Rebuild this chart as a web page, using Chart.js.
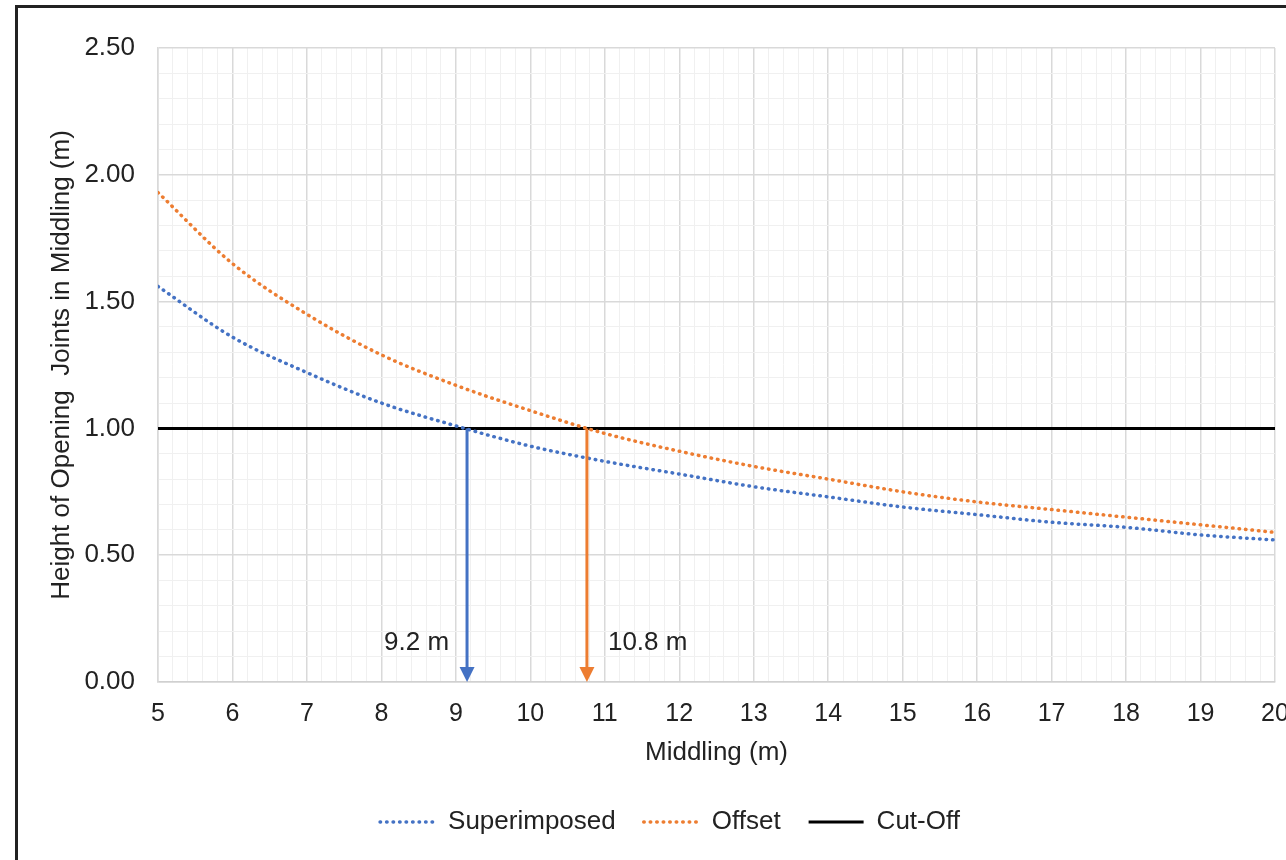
<!DOCTYPE html>
<html>
<head>
<meta charset="utf-8">
<script src="https://cdn.jsdelivr.net/npm/chart.js@4.4.1/dist/chart.umd.min.js"></script>
<style>
  html, body { margin: 0; padding: 0; background: #fff; overflow: hidden; }
  #frame {
    position: absolute; left: 15px; top: 5px;
    width: 1320px; height: 900px;
    border: 3px solid #222;
    background: #fff;
  }
</style>
</head>
<body>
<div id="frame"><canvas id="myChart"></canvas></div>
<script>
// values
const middling = [5, 6, 7, 8, 9, 10, 11, 12, 13, 14, 15, 16, 17, 18, 19, 20];
const superimposed = [1.56, 1.36, 1.22, 1.10, 1.01, 0.93, 0.87, 0.82, 0.77, 0.73, 0.69, 0.66, 0.63, 0.61, 0.58, 0.56];
const offset = [1.93, 1.65, 1.45, 1.29, 1.17, 1.07, 0.98, 0.91, 0.85, 0.80, 0.75, 0.71, 0.68, 0.65, 0.62, 0.59];
const cutOffX = [5, 20];
const cutOffY = [1.0, 1.0];
const arrowX = [9.15, 10.76];
const arrowLabels = ["9.2 m", "10.8 m"];
const arrowLabelY = 0.154;

const blue = "#4472C4";
const orange = "#ED7D31";
const font = "'Liberation Sans', Arial, sans-serif";

function pts(xs, ys) {
  return xs.map((x, i) => ({ x: x, y: ys[i] }));
}

const isMajorX = v => Math.abs(v - Math.round(v)) < 1e-6;
const isMajorY = v => Math.abs(v * 2 - Math.round(v * 2)) < 1e-6;

// arrows and their labels, placed through the scales
const arrowPlugin = {
  id: "arrows",
  afterDatasetsDraw(chart) {
    const xs = chart.scales.x;
    const ys = chart.scales.y;
    const c = chart.ctx;
    const colors = [blue, orange];
    const y1 = ys.getPixelForValue(1);
    const y0 = ys.getPixelForValue(0);
    const ly = ys.getPixelForValue(arrowLabelY);
    c.save();
    arrowX.forEach((v, i) => {
      const px = xs.getPixelForValue(v);
      c.strokeStyle = colors[i];
      c.fillStyle = colors[i];
      c.lineWidth = 3;
      c.beginPath();
      c.moveTo(px, y1);
      c.lineTo(px, y0 - 12);
      c.stroke();
      c.beginPath();
      c.moveTo(px, y0);
      c.lineTo(px - 7.5, y0 - 15);
      c.lineTo(px + 7.5, y0 - 15);
      c.closePath();
      c.fill();
      c.fillStyle = "#222";
      c.font = "26px " + font;
      c.textBaseline = "middle";
      if (i === 0) {
        c.textAlign = "right";
        c.fillText(arrowLabels[i], px - 18, ly);
      } else {
        c.textAlign = "left";
        c.fillText(arrowLabels[i], px + 21, ly);
      }
    });
    c.restore();
  }
};

const ctx = document.getElementById("myChart");

let chartData = {
  datasets: [
    {
      label: "Superimposed",
      data: pts(middling, superimposed),
      borderColor: blue,
      backgroundColor: blue,
      borderWidth: 3.5,
      borderDash: [0.5, 6],
      borderCapStyle: "round",
      pointRadius: 0,
      cubicInterpolationMode: "monotone"
    },
    {
      label: "Offset",
      data: pts(middling, offset),
      borderColor: orange,
      backgroundColor: orange,
      borderWidth: 3.5,
      borderDash: [0.5, 6],
      borderCapStyle: "round",
      pointRadius: 0,
      cubicInterpolationMode: "monotone"
    },
    {
      label: "Cut-Off",
      data: pts(cutOffX, cutOffY),
      borderColor: "#000",
      backgroundColor: "#000",
      borderWidth: 3,
      pointRadius: 0
    }
  ]
};

function legendLabels(chart) {
  const items = Chart.defaults.plugins.legend.labels.generateLabels(chart);
  items.forEach(item => {
    const ds = chart.data.datasets[item.datasetIndex];
    item.lineDash = ds.borderDash || [];
    item.lineCap = ds.borderCapStyle || "butt";
    item.lineWidth = ds.borderWidth;
    item.strokeStyle = ds.borderColor;
  });
  return items;
}

let configData = {
  type: "line",
  data: chartData,
  plugins: [arrowPlugin],
  options: {
    responsive: true,
    maintainAspectRatio: false,
    animation: false,
    layout: { padding: { left: 47, right: 63, top: 40, bottom: 63 } },
    plugins: {
      tooltip: { enabled: false },
      legend: {
        position: "bottom",
        labels: {
          usePointStyle: true,
          pointStyle: "line",
          pointStyleWidth: 55,
          padding: 28,
          color: "#222",
          font: { family: font, size: 26 },
          generateLabels: legendLabels
        }
      }
    },
    scales: {
      x: {
        type: "linear",
        min: 5,
        max: 20,
        afterFit: s => { s.height = 99; },
        ticks: {
          stepSize: 0.2,
          autoSkip: false,
          maxRotation: 0,
          padding: 17,
          color: "#222",
          font: { family: font, size: 25 },
          callback: v => isMajorX(v) ? String(Math.round(v)) : ""
        },
        grid: {
          drawTicks: false,
          color: c => isMajorX(c.tick.value) ? "#d9d9d9" : "#f0f0f0",
          lineWidth: c => isMajorX(c.tick.value) ? 1.5 : 1
        },
        border: { color: "#d0d0d0", width: 1.5 },
        title: {
          display: true,
          text: "Middling (m)",
          color: "#222",
          font: { family: font, size: 26 },
          padding: { top: 0, bottom: 13 }
        }
      },
      y: {
        min: 0,
        max: 2.5,
        afterFit: s => { s.width = 93; },
        ticks: {
          stepSize: 0.1,
          autoSkip: false,
          padding: 23,
          color: "#222",
          font: { family: font, size: 26 },
          callback: v => isMajorY(v) ? v.toFixed(2) : ""
        },
        grid: {
          drawTicks: false,
          color: c => isMajorY(c.tick.value) ? "#d9d9d9" : "#f0f0f0",
          lineWidth: c => isMajorY(c.tick.value) ? 1.5 : 1
        },
        border: { color: "#d9d9d9", width: 1.5 },
        title: {
          display: true,
          text: "Height of Opening  Joints in Middling (m)",
          color: "#222",
          font: { family: font, size: 26 },
          padding: { top: -18.6, bottom: 0 }
        }
      }
    }
  }
};

let chart = new Chart(ctx, configData);
</script>
</body>
</html>
